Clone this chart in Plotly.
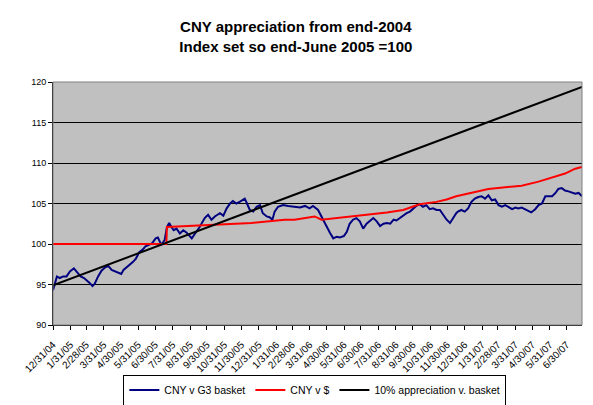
import pandas as pd
import plotly.graph_objects as go

# values (index, end-June 2005 = 100)
basket_dates = [
    "2004-12-31", "2005-01-04", "2005-01-07", "2005-01-12", "2005-01-18", "2005-01-24",
    "2005-01-30", "2005-02-06", "2005-02-12", "2005-02-18", "2005-02-24", "2005-02-28",
    "2005-03-06", "2005-03-11", "2005-03-15", "2005-03-21", "2005-03-27", "2005-04-02",
    "2005-04-08", "2005-04-14", "2005-04-20", "2005-04-25", "2005-05-01", "2005-05-05",
    "2005-05-10", "2005-05-16", "2005-05-22", "2005-05-27", "2005-06-02", "2005-06-08",
    "2005-06-13", "2005-06-19", "2005-06-25", "2005-07-01", "2005-07-05", "2005-07-11",
    "2005-07-17", "2005-07-21", "2005-07-25", "2005-07-29", "2005-08-02", "2005-08-07",
    "2005-08-13", "2005-08-19", "2005-08-25", "2005-09-03", "2005-09-11", "2005-09-17",
    "2005-09-26", "2005-10-02", "2005-10-08", "2005-10-14", "2005-10-23", "2005-10-29",
    "2005-11-04", "2005-11-10", "2005-11-15", "2005-11-21", "2005-11-27", "2005-12-06",
    "2005-12-10", "2005-12-15", "2005-12-21", "2005-12-27", "2006-01-02", "2006-01-07",
    "2006-01-14", "2006-01-19", "2006-01-24", "2006-01-28", "2006-02-03", "2006-02-12",
    "2006-02-21", "2006-03-02", "2006-03-14", "2006-03-23", "2006-03-31", "2006-04-06",
    "2006-04-15", "2006-04-21", "2006-04-24", "2006-04-30", "2006-05-06", "2006-05-12",
    "2006-05-18", "2006-05-24", "2006-05-31", "2006-06-05", "2006-06-10", "2006-06-16",
    "2006-06-22", "2006-06-28", "2006-07-04", "2006-07-10", "2006-07-16", "2006-07-22",
    "2006-07-28", "2006-08-03", "2006-08-09", "2006-08-15", "2006-08-21", "2006-08-27",
    "2006-09-01", "2006-09-07", "2006-09-13", "2006-09-19", "2006-09-25", "2006-09-30",
    "2006-10-06", "2006-10-12", "2006-10-18", "2006-10-24", "2006-10-30", "2006-11-05",
    "2006-11-11", "2006-11-17", "2006-11-23", "2006-11-29", "2006-12-05", "2006-12-10",
    "2006-12-16", "2006-12-19", "2006-12-25", "2006-12-31", "2007-01-06", "2007-01-12",
    "2007-01-18", "2007-01-24", "2007-01-30", "2007-02-05", "2007-02-11", "2007-02-17",
    "2007-02-23", "2007-03-01", "2007-03-07", "2007-03-13", "2007-03-19", "2007-03-25",
    "2007-03-31", "2007-04-05", "2007-04-11", "2007-04-17", "2007-04-23", "2007-04-28",
    "2007-05-05", "2007-05-11", "2007-05-17", "2007-05-23", "2007-05-29", "2007-06-04",
    "2007-06-10", "2007-06-15", "2007-06-21", "2007-06-27", "2007-07-03", "2007-07-09",
    "2007-07-15", "2007-07-21", "2007-07-27",
]
basket_values = [
    94.3, 95.2, 96.0, 95.8, 96.0, 96.0,
    96.6, 97.0, 96.5, 96.0, 95.8, 95.6,
    95.2, 94.8, 95.1, 96.0, 96.7, 97.1,
    97.3, 96.8, 96.6, 96.4, 96.3, 96.8,
    97.1, 97.4, 97.8, 98.2, 99.0, 99.3,
    99.7, 99.9, 100.1, 100.7, 100.8, 99.9,
    100.5, 102.1, 102.6, 102.1, 101.7, 101.9,
    101.3, 101.7, 101.4, 100.7, 101.5, 102.1,
    103.2, 103.6, 103.0, 103.4, 103.8, 103.5,
    104.4, 105.0, 105.3, 105.0, 105.2, 105.6,
    105.0, 104.2, 104.0, 104.6, 104.8, 103.8,
    103.4, 103.3, 103.0, 104.0, 104.6, 104.8,
    104.7, 104.6, 104.5, 104.7, 104.4, 104.7,
    104.2, 103.4, 103.0, 102.1, 101.4, 100.7,
    100.9, 100.8, 101.0, 101.5, 102.5, 103.0,
    103.2, 102.8, 101.9, 102.5, 102.8, 103.2,
    102.8, 102.2, 102.5, 102.6, 102.5, 103.0,
    102.9, 103.2, 103.6, 103.8, 104.0, 104.3,
    104.7, 104.9, 104.6, 104.8, 104.3, 104.4,
    104.2, 104.2, 103.6, 103.0, 102.6, 103.2,
    103.8, 104.0, 104.2, 104.0, 104.4, 105.2,
    105.6, 105.8, 105.9, 105.6, 106.0, 105.4,
    105.5, 104.8, 104.6, 104.8, 104.5, 104.3,
    104.5, 104.4, 104.5, 104.3, 104.1, 103.9,
    104.3, 104.8, 105.0, 105.9, 105.9, 105.9,
    106.3, 106.8, 106.9, 106.6, 106.5, 106.3,
    106.2, 106.3, 105.9,
]

usd_dates = [
    "2004-12-31", "2005-07-20", "2005-07-21", "2005-08-15", "2005-09-17", "2005-10-19",
    "2005-11-20", "2005-12-18", "2006-01-20", "2006-02-15", "2006-03-04", "2006-04-09",
    "2006-04-21", "2006-05-18", "2006-06-16", "2006-07-16", "2006-08-15", "2006-09-13",
    "2006-10-12", "2006-11-11", "2006-11-29", "2006-12-16", "2007-01-12", "2007-02-11",
    "2007-03-13", "2007-04-11", "2007-05-11", "2007-06-10", "2007-06-27", "2007-07-15",
    "2007-07-27",
]
usd_values = [
    100.0, 100.0, 102.1, 102.2, 102.3, 102.4,
    102.5, 102.6, 102.8, 103.0, 103.0, 103.4,
    103.0, 103.2, 103.4, 103.6, 103.9, 104.2,
    104.9, 105.2, 105.5, 105.9, 106.3, 106.8,
    107.0, 107.2, 107.7, 108.4, 108.7, 109.3,
    109.5,
]

trend_dates = ["2004-12-31", "2007-07-27"]
trend_values = [94.9, 119.4]

month_labels = [
    "12/31/04", "1/31/05", "2/28/05", "3/31/05", "4/30/05", "5/31/05", "6/30/05",
    "7/31/05", "8/31/05", "9/30/05", "10/31/05", "11/30/05", "12/31/05", "1/31/06",
    "2/28/06", "3/31/06", "4/30/06", "5/31/06", "6/30/06", "7/31/06", "8/31/06",
    "9/30/06", "10/31/06", "11/30/06", "12/31/06", "1/31/07", "2/28/07", "3/31/07",
    "4/30/07", "5/31/07", "6/30/07",
]
tick_dates = [pd.to_datetime(s, format="%m/%d/%y") for s in month_labels]

FONT = "Arial, Liberation Sans, sans-serif"

fig = go.Figure()
fig.add_trace(go.Scatter(x=basket_dates, y=basket_values, mode="lines",
                         name="CNY v G3 basket", line={"color": "#000080", "width": 2}))
fig.add_trace(go.Scatter(x=usd_dates, y=usd_values, mode="lines",
                         name="CNY v $", line={"color": "#FF0000", "width": 2}))
fig.add_trace(go.Scatter(x=trend_dates, y=trend_values, mode="lines",
                         name="10% appreciation v. basket", line={"color": "#000000", "width": 2}))

# grey plot-area frame like Excel
fig.add_shape(type="rect", xref="paper", yref="paper", x0=0, y0=0, x1=1, y1=1,
              line={"color": "#808080", "width": 1}, layer="above")

# the page body adds an 8px margin, so the figure is 8px smaller than the window
fig.update_layout(
    width=585, height=397,
    margin=dict(l=45, r=11, t=74, b=80, autoexpand=False),
    paper_bgcolor="white",
    plot_bgcolor="#C0C0C0",
    font=dict(family=FONT, color="black", size=9),
    title=dict(
        text="CNY appreciation from end-2004<br>Index set so end-June 2005 =100",
        x=0.492, xanchor="center", y=0.939, yanchor="top",
        font=dict(family=FONT, size=15, color="black", weight="bold"),
    ),
    showlegend=True,
    legend=dict(
        orientation="h", x=0.495, xanchor="center", y=-0.268, yanchor="middle",
        bordercolor="black", borderwidth=1, bgcolor="white",
        font=dict(family=FONT, size=10.5), itemwidth=30, tracegroupgap=0,
    ),
)
fig.update_xaxes(
    type="date", range=["2004-12-31", "2007-07-27"], automargin=False,
    tickvals=tick_dates, ticktext=month_labels, tickangle=-45,
    showgrid=False, zeroline=False, showline=True, linecolor="black", linewidth=1,
    ticks="outside", ticklen=4, tickcolor="black", tickfont=dict(size=10),
    ticklabelstandoff=5,
)
fig.update_yaxes(
    range=[90, 120], dtick=5, tick0=90, automargin=False,
    showgrid=True, gridcolor="#000000", gridwidth=1, zeroline=False,
    showline=True, linecolor="black", linewidth=1,
    ticks="outside", ticklen=4, tickcolor="black", tickfont=dict(size=9),
)

fig.write_html("out.html")
